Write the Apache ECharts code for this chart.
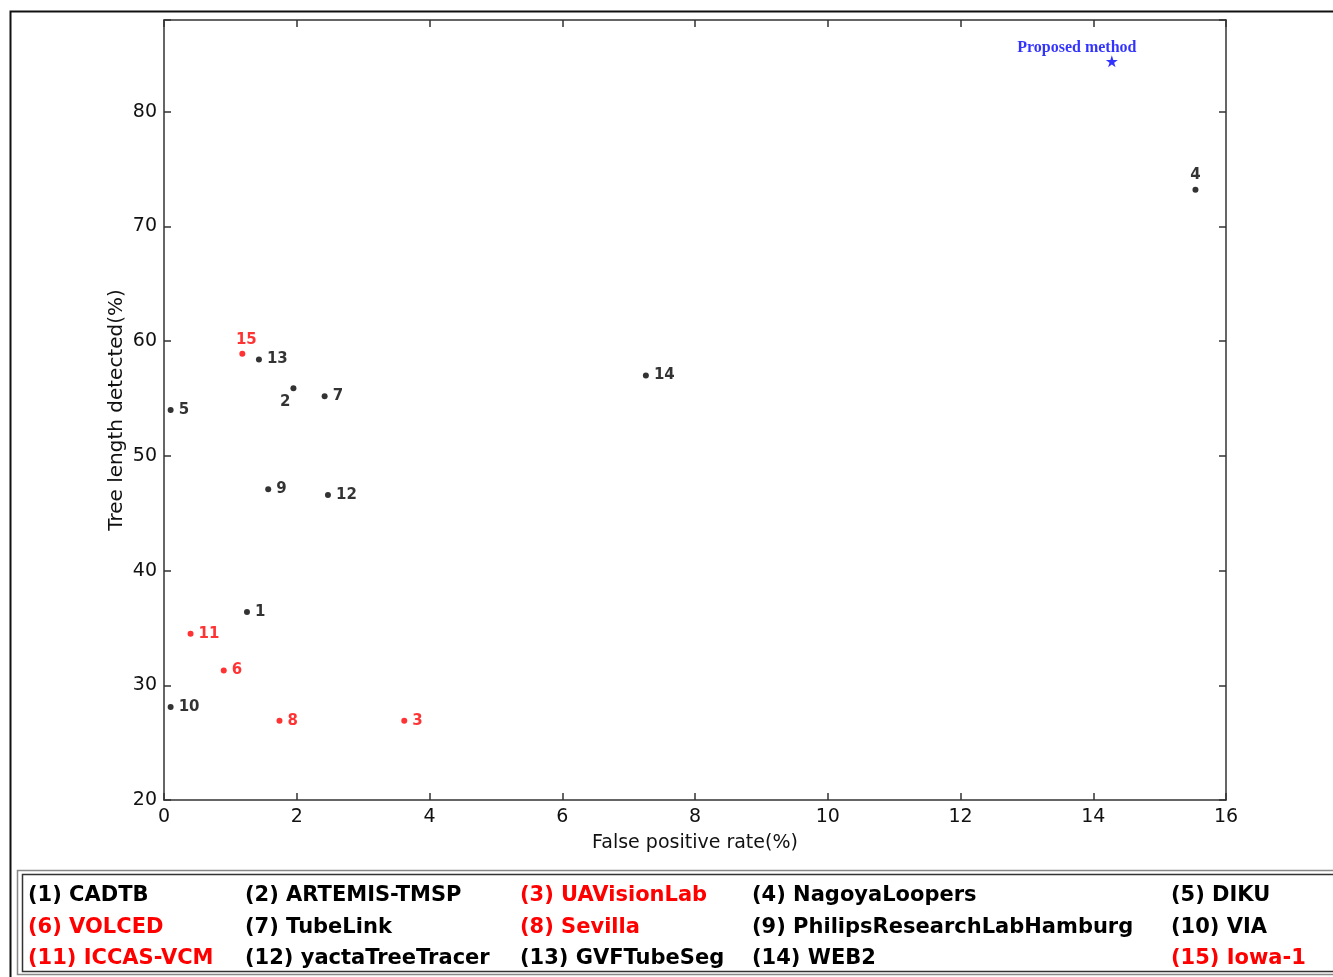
<!DOCTYPE html>
<html>
<head>
<meta charset="utf-8">
<script src="https://cdn.jsdelivr.net/npm/echarts@6/dist/echarts.min.js"></script>
<style>
html,body{margin:0;padding:0;background:#fff;}
#chart{width:1333px;height:977px;}
</style>
</head>
<body>
<div id="chart"></div>
<script>
// ---- data ----
const methodIds = [1, 2, 3, 4, 5, 6, 7, 8, 9, 10, 11, 12, 13, 14, 15];
const methodNames = ['CADTB', 'ARTEMIS-TMSP', 'UAVisionLab', 'NagoyaLoopers', 'DIKU',
  'VOLCED', 'TubeLink', 'Sevilla', 'PhilipsResearchLabHamburg', 'VIA',
  'ICCAS-VCM', 'yactaTreeTracer', 'GVFTubeSeg', 'WEB2', 'Iowa-1'];
const falsePositive = [1.25, 1.95, 3.62, 15.54, 0.10, 0.90, 2.42, 1.74, 1.57, 0.10, 0.40, 2.47, 1.43, 7.26, 1.18];
const treeLength   = [36.4, 55.9, 26.9, 73.2, 54.0, 31.3, 55.2, 26.9, 47.1, 28.1, 34.5, 46.6, 58.4, 57.0, 58.9];
const redIds = [3, 6, 8, 11, 15];
const proposedName = 'Proposed method';
const proposedX = [14.28];
const proposedY = [84.4];
const xTicks = [0, 2, 4, 6, 8, 10, 12, 14, 16];
const yTicks = [20, 30, 40, 50, 60, 70, 80];

// ---- presentation ----
const RED = '#ff0000', BLACK = '#000000';
const labelPlace = {
  2: {position: 'left', distance: 2, offset: [2, 14]},
  4: {position: 'top', distance: 4},
  15: {position: 'top', offset: [4, 0], distance: 3}
};

const pts = methodIds.map((id, i) => {
  const c = redIds.includes(id) ? RED : BLACK;
  const lp = labelPlace[id] || {position: 'right', distance: 5};
  return {
    name: String(id),
    value: [falsePositive[i], treeLength[i]],
    itemStyle: {color: c},
    label: Object.assign({color: c}, lp)
  };
});

const tickFont = {fontFamily: 'DejaVu Sans', fontSize: 19, color: '#111'};
const lineStyle = {color: '#333', width: 1.5};
const tickStyle = {show: true, inside: true, length: 7, lineStyle: lineStyle};

// legend text (3 rows x 5 columns)
const colX = [28, 245, 520, 752, 1171];
const rowY = [896, 928, 959];
const legendEls = methodIds.map((id, i) => ({
  type: 'text',
  x: colX[i % 5],
  y: rowY[Math.floor(i / 5)],
  style: {
    text: '(' + id + ') ' + methodNames[i],
    fill: redIds.includes(id) ? RED : BLACK,
    font: 'bold 21px "DejaVu Sans"',
    align: 'left',
    verticalAlign: 'middle'
  },
  silent: true
}));

const chart = echarts.init(document.getElementById('chart'), null, {renderer: 'canvas'});
chart.setOption({
  backgroundColor: '#fff',
  animation: false,
  grid: {left: 164, right: 107, top: 20, bottom: 177},
  xAxis: [{
    type: 'value', min: xTicks[0], max: xTicks[xTicks.length - 1], interval: 2,
    position: 'bottom',
    name: 'False positive rate(%)', nameLocation: 'middle', nameGap: 34,
    nameTextStyle: {fontFamily: 'DejaVu Sans', fontSize: 19, color: '#111'},
    axisLine: {show: true, onZero: false, lineStyle: lineStyle},
    axisTick: tickStyle,
    axisLabel: Object.assign({margin: 8}, tickFont),
    splitLine: {show: false}
  }, {
    type: 'value', min: xTicks[0], max: xTicks[xTicks.length - 1], interval: 2,
    position: 'top',
    axisLine: {show: true, onZero: false, lineStyle: lineStyle},
    axisTick: tickStyle,
    axisLabel: {show: false}, splitLine: {show: false}
  }],
  yAxis: [{
    type: 'value', min: yTicks[0], max: 88, interval: 10,
    position: 'left',
    name: 'Tree length detected(%)', nameLocation: 'middle', nameGap: 37,
    nameMoveOverlap: false,
    nameTextStyle: {fontFamily: 'DejaVu Sans', fontSize: 20, color: '#111'},
    axisLine: {show: true, onZero: false, lineStyle: lineStyle},
    axisTick: tickStyle,
    axisLabel: Object.assign({margin: 7, formatter: v => (yTicks.includes(v) ? String(v) : '')}, tickFont),
    splitLine: {show: false}
  }, {
    type: 'value', min: yTicks[0], max: 88, interval: 10,
    position: 'right',
    axisLine: {show: true, onZero: false, lineStyle: lineStyle},
    axisTick: tickStyle,
    axisLabel: {show: false}, splitLine: {show: false}
  }],
  series: [{
    type: 'scatter',
    symbol: 'circle', symbolSize: 6,
    data: pts,
    label: {
      show: true, formatter: '{b}',
      fontFamily: 'DejaVu Sans', fontWeight: 'bold', fontSize: 15
    }
  }, {
    type: 'scatter',
    symbol: 'path://M50,0 L61.8,35.1 L98.5,35.1 L68.8,56.8 L80.1,91.6 L50,70 L19.9,91.6 L31.2,56.8 L1.5,35.1 L38.2,35.1 Z',
    symbolSize: 12,
    itemStyle: {color: '#0000ff'},
    data: proposedX.map((x, i) => ({name: proposedName, value: [x, proposedY[i]]})),
    label: {
      show: true, formatter: '{b}', position: 'top', distance: 1, offset: [-35, 2],
      color: '#0000ff', fontFamily: 'Liberation Serif', fontWeight: 'bold', fontSize: 16
    }
  }],
  graphic: [
    {type: 'rect', shape: {x: 10.5, y: 11.5, width: 1340, height: 1000},
     style: {fill: null, stroke: '#111', lineWidth: 2}, silent: true, z: -1},
    {type: 'rect', shape: {x: 17.5, y: 870.5, width: 1330, height: 104},
     style: {fill: '#fff', stroke: '#888', lineWidth: 1.5}, silent: true},
    {type: 'rect', shape: {x: 22.5, y: 874.5, width: 1330, height: 97},
     style: {fill: null, stroke: '#333', lineWidth: 1.5}, silent: true}
  ].concat(legendEls)
});
</script>
</body>
</html>
